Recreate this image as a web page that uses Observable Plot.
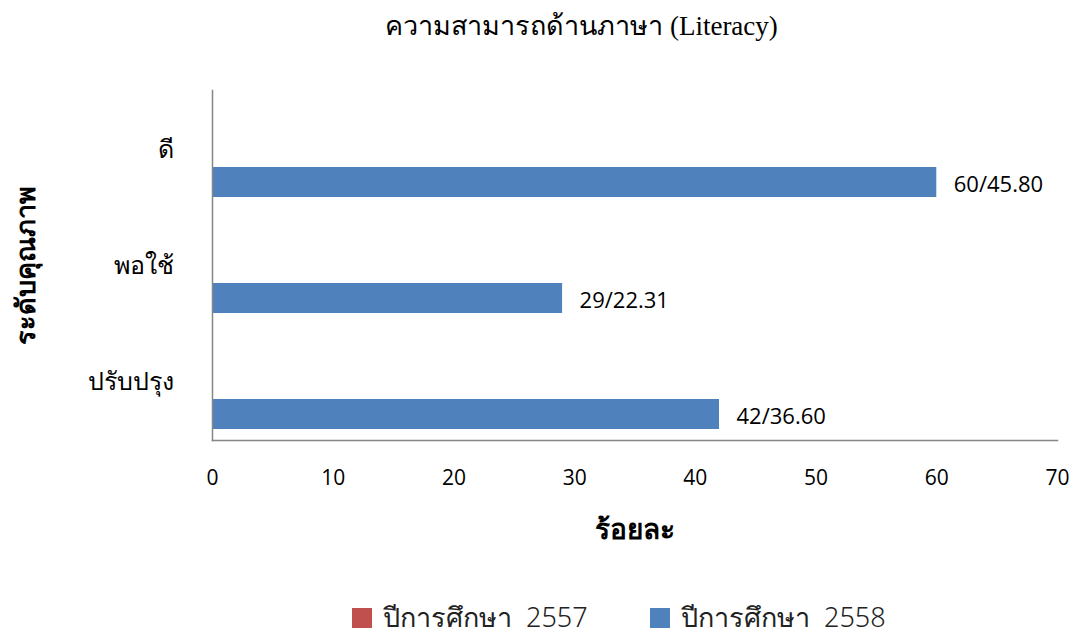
<!DOCTYPE html>
<html><head><meta charset="utf-8">
<script src="https://cdn.jsdelivr.net/npm/d3@7"></script>
<script src="https://cdn.jsdelivr.net/npm/@observablehq/plot@0.6"></script>
<style>
body{margin:0;background:#fff;width:1075px;height:640px;overflow:hidden;font-family:"Noto Sans",sans-serif}
#title{height:55px;box-sizing:border-box;padding-left:88px;text-align:center;font-family:"Liberation Serif",serif;font-size:27px;line-height:52px;color:#000}
#chart{height:540px}
#legend{height:45px;display:flex;align-items:center;padding-left:352px;box-sizing:border-box;font-family:"Noto Sans",sans-serif;font-weight:300;font-size:27px;color:#222}
.item{display:flex;align-items:center}
.sw{width:20px;height:20px;margin-right:11px}
</style></head>
<body>
<div id="title">ความสามารถด้านภาษา (Literacy)</div>
<div id="chart"></div>
<div id="legend"></div>
<script>
const categories = ["ดี", "พอใช้", "ปรับปรุง"];
const seriesNames = ["ปีการศึกษา  2557", "ปีการศึกษา  2558"];
const values2557 = [0, 0, 0];
const values2558 = [60, 29, 42];
const labels2558 = ["60/45.80", "29/22.31", "42/36.60"];
const xTicks = [0, 10, 20, 30, 40, 50, 60, 70];
const seriesColors = ["#C0504D", "#4F81BD"];
const xTitle = "ร้อยละ";
const yTitle = "ระดับคุณภาพ";

const rows2557 = categories.map((c, i) => ({category: c, series: seriesNames[0], value: values2557[i]}));
const rows2558 = categories.map((c, i) => ({category: c, series: seriesNames[1], value: values2558[i], label: labels2558[i]}));

const chart = Plot.plot({
  width: 1075, height: 540,
  marginTop: 35, marginBottom: 155, marginLeft: 212, marginRight: 18,
  style: {fontFamily: '"Liberation Sans Narrow","Open Sans",sans-serif', fontSize: "20px", color: "#000", background: "#fff"},
  x: {domain: [0, 70]},
  y: {domain: categories, padding: 0},
  color: {domain: seriesNames, range: seriesColors},
  marks: [
    Plot.barX(rows2557, {x: "value", y: "category", fill: "series", insetTop: 10, insetBottom: 76}),
    Plot.barX(rows2558, {x: "value", y: "category", fill: "series", insetTop: 76, insetBottom: 10}),
    Plot.text(rows2558, {x: "value", y: "category", text: "label", dx: 17, dy: 35, textAnchor: "start", fontSize: 22, fill: "#000"}),
    Plot.axisX({ticks: xTicks, tickSize: 0, tickPadding: 30, fontSize: 21, label: null}),
    Plot.axisY({tickSize: 0, tickPadding: 39, fontSize: 25, fontWeight: 300, fontFamily: '"Noto Sans",sans-serif', label: null}),
    Plot.frame({anchor: "left", stroke: "#868686", strokeWidth: 1.5}),
    Plot.frame({anchor: "bottom", stroke: "#868686", strokeWidth: 1.5}),
    Plot.text([xTitle], {text: d => d, frameAnchor: "bottom", dy: 98, fontSize: 28, fontWeight: "bold", fontFamily: '"Noto Sans",sans-serif', fill: "#000"}),
    Plot.text([yTitle], {text: d => d, frameAnchor: "left", textAnchor: "middle", dx: -186, rotate: -90, fontSize: 27, fontWeight: "bold", fontFamily: '"Noto Sans",sans-serif', fill: "#000"})
  ]
});
document.getElementById("chart").appendChild(chart);

const legend = document.getElementById("legend");
seriesNames.forEach((name, i) => {
  const item = document.createElement("div");
  item.className = "item";
  if (i === 0) item.style.width = "298px";
  const sw = document.createElement("div");
  sw.className = "sw";
  sw.style.background = seriesColors[i];
  const t = document.createElement("span");
  t.textContent = name;
  t.style.whiteSpace = "pre";
  item.appendChild(sw); item.appendChild(t);
  legend.appendChild(item);
});
</script>
</body></html>
